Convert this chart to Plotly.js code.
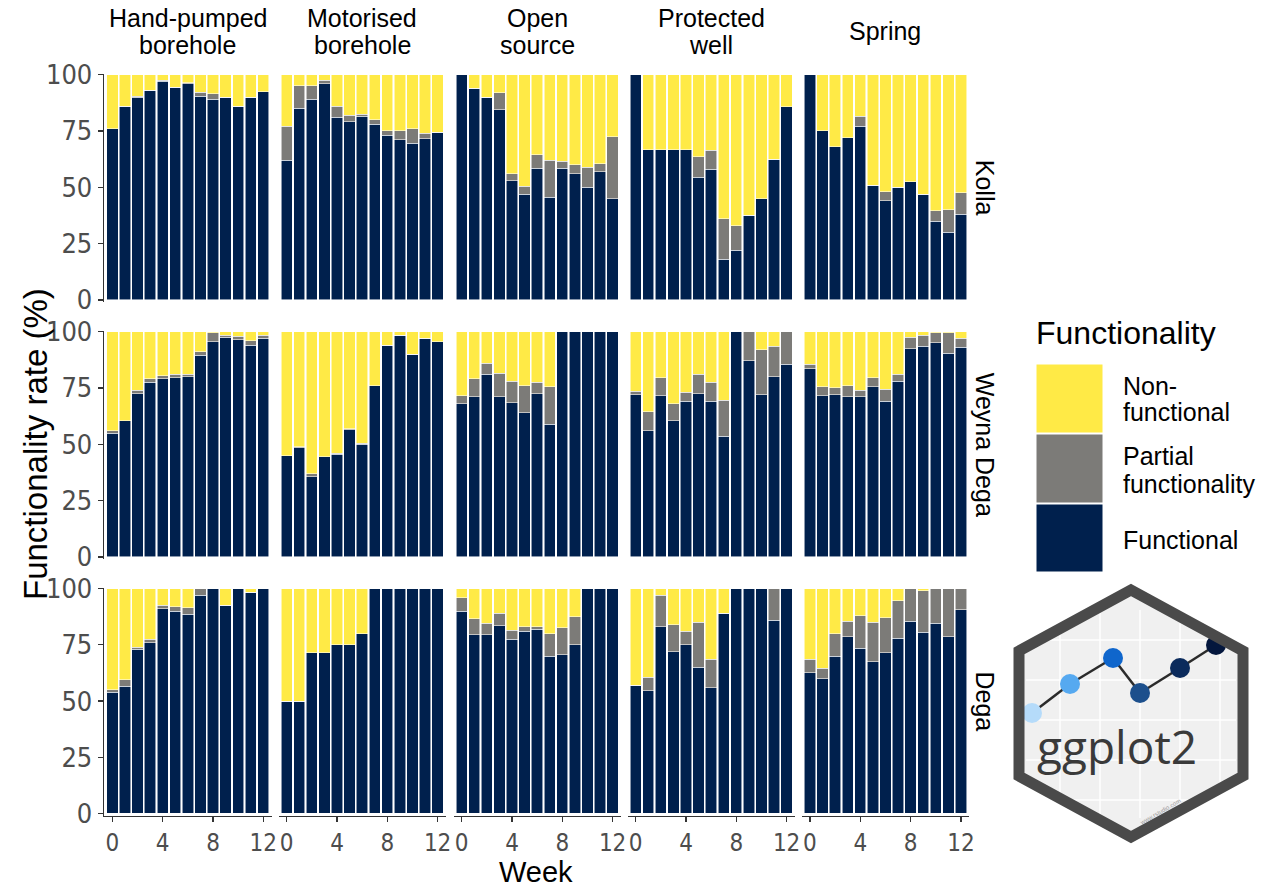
<!DOCTYPE html>
<html><head><meta charset="utf-8">
<script src="https://cdn.plot.ly/plotly-3.0.1.min.js"></script>
<style>html,body{margin:0;padding:0;background:#fff}#chart{width:1265px;height:888px}</style>
</head><body><div id="chart"></div>
<script>
// ---------- categories / labels ----------
const weeks = [0,1,2,3,4,5,6,7,8,9,10,11,12];
const sourceTypes = [["Hand-pumped","borehole"],["Motorised","borehole"],["Open","source"],["Protected","well"],["Spring"]];
const regions = ["Kolla","Weyna Dega","Dega"];
const statusNames = ["Functional","Partial functionality","Non-functional"];
const statusColors = ["#00204D","#7C7B78","#FFEA46"];
const yTickVals = [0,25,50,75,100];
const xTickVals = [0,4,8,12];

// ---------- data: Kolla ----------
const kolla_hand_F = [76,86,90,93,97,94.5,96,90.5,89,90,86,90,92.5];
const kolla_hand_P = [0,0,0.5,0,0.5,0,0.5,1.6,2.5,0,0,0,0];
const kolla_hand_N = [24,14,9.5,7,2.5,5.5,3.5,7.9,8.5,10,14,10,7.5];
const kolla_motor_F = [62,85,89,96,81,79,81.5,78,73,71,69.5,71.5,74.5];
const kolla_motor_P = [15,10,6,1.5,5,3,1,2,2,4,6.5,2.5,0];
const kolla_motor_N = [23,5,5,2.5,14,18,17.5,20,25,25,24,26,25.5];
const kolla_open_F = [100,94,90,84.5,53,47,58.5,45.5,58.5,56,50,57,45];
const kolla_open_P = [0,0,0,7.5,3,3.5,6,16.5,3,4,9,3.5,27.5];
const kolla_open_N = [0,6,10,8,44,49.5,35.5,38,38.5,40,41,39.5,27.5];
const kolla_well_F = [100,66.7,66.7,66.7,66.7,54.5,58,18,22,37.5,45,62.5,85.7];
const kolla_well_P = [0,0,0,0,0,9,8.5,18,11,0,0,0,0];
const kolla_well_N = [0,33.3,33.3,33.3,33.3,36.5,33.5,64,67,62.5,55,37.5,14.3];
const kolla_spring_F = [100,75,68,72,77,51,44,50,52.5,47,35,30,38];
const kolla_spring_P = [0,0,0,0,4.5,0,4,0,0,0,4.5,10,9.5];
const kolla_spring_N = [0,25,32,28,18.5,49,52,50,47.5,53,60.5,60,52.5];

// ---------- data: Weyna Dega ----------
const weyna_hand_F = [55,60.5,72.5,77.5,79,79.5,80,89.5,95.5,97.5,96.5,94,97];
const weyna_hand_P = [1,0,1.5,1.5,1.5,1.5,1,1.5,4,1,1.5,2,1.5];
const weyna_hand_N = [44,39.5,26,21,19.5,19,19,9,0.5,1.5,2,4,1.5];
const weyna_motor_F = [45,48.5,35.5,44.5,45.5,56.5,50,76,94,98.5,90,97,95.5];
const weyna_motor_P = [0,0.5,1.5,0,0.5,0.5,0.5,0,0,0,0,0,0];
const weyna_motor_N = [55,51,63,55.5,54,43,49.5,24,6,1.5,10,3,4.5];
const weyna_open_F = [68,71,81,71,68.5,64,72.5,59,100,100,100,100,100];
const weyna_open_P = [3.5,8,5,10.5,9.5,12,5,16.5,0,0,0,0,0];
const weyna_open_N = [28.5,21,14,18.5,22,24,22.5,24.5,0,0,0,0,0];
const weyna_well_F = [72,56,71.5,60.5,69,72.5,69,53.5,100,87,72,80,85.5];
const weyna_well_P = [1.5,8.5,8,7.5,4,8.5,8.5,16,0,13,20,13.5,14.5];
const weyna_well_N = [26.5,35.5,20.5,32,27,19,22.5,30.5,0,0,8,6.5,0];
const weyna_spring_F = [83.5,71.5,72,71,71,75.5,69,78,92.5,93.5,95,90.5,93];
const weyna_spring_P = [2,4,3,5,3,4,5.5,3,5,5,4.5,9,4];
const weyna_spring_N = [14.5,24.5,25,24,26,20.5,25.5,19,2.5,1.5,0.5,0.5,3];

// ---------- data: Dega ----------
const dega_hand_F = [54,56.5,73,76,91,90,88.5,97,100,92.5,100,98.5,100];
const dega_hand_P = [1,3,1,1.5,1.5,2,3,3,0,0,0,0,0];
const dega_hand_N = [45,40.5,26,22.5,7.5,8,8.5,0,0,7.5,0,1.5,0];
const dega_motor_F = [50,50,71.4,71.4,75,75,80,100,100,100,100,100,100];
const dega_motor_P = [0,0,0,0,0,0,0,0,0,0,0,0,0];
const dega_motor_N = [50,50,28.6,28.6,25,25,20,0,0,0,0,0,0];
const dega_open_F = [90,79.5,79.5,83.5,77.5,81,82,70,70.5,75,100,100,100];
const dega_open_P = [6,7,5,5.5,4,2,1,10,12,12.5,0,0,0];
const dega_open_N = [4,13.5,15.5,11,18.5,17,17,20,17.5,12.5,0,0,0];
const dega_well_F = [57,54.5,83,72,75,65,56,89,100,100,100,86,100];
const dega_well_P = [0,6,14,12,6,20,12.5,0,0,0,0,14,0];
const dega_well_N = [43,39.5,3,16,19,15,31.5,11,0,0,0,0,0];
const dega_spring_F = [62.5,60,70,78.5,73.5,67.5,71.5,78,85.5,80.5,84.5,78.5,90.5];
const dega_spring_P = [6,4.5,10,7,14.5,17.5,15.5,16.5,14.5,18.5,15.5,21.5,9.5];
const dega_spring_N = [31.5,35.5,20,14.5,12,15,13,5.5,0,1,0,0,0];

const facets = [
  [[kolla_hand_F,kolla_hand_P,kolla_hand_N],[kolla_motor_F,kolla_motor_P,kolla_motor_N],[kolla_open_F,kolla_open_P,kolla_open_N],[kolla_well_F,kolla_well_P,kolla_well_N],[kolla_spring_F,kolla_spring_P,kolla_spring_N]],
  [[weyna_hand_F,weyna_hand_P,weyna_hand_N],[weyna_motor_F,weyna_motor_P,weyna_motor_N],[weyna_open_F,weyna_open_P,weyna_open_N],[weyna_well_F,weyna_well_P,weyna_well_N],[weyna_spring_F,weyna_spring_P,weyna_spring_N]],
  [[dega_hand_F,dega_hand_P,dega_hand_N],[dega_motor_F,dega_motor_P,dega_motor_N],[dega_open_F,dega_open_P,dega_open_N],[dega_well_F,dega_well_P,dega_well_N],[dega_spring_F,dega_spring_P,dega_spring_N]]
];

// ---------- layout geometry ----------
const W = 1265, H = 888;
const px = v => v / W;
const py = v => 1 - v / H;
const colPx = [[104.2,271.5],[278.5,445.8],[453.5,620.8],[627.5,794.8],[801.8,969.1]];
const rowPx = [[73.5,302],[330.5,559],[587.5,815.5]];
const FONT = "Liberation Sans, Arial, Helvetica, sans-serif";
const TICKFONT = "Liberation Sans Narrow, Arial Narrow, DejaVu Sans Condensed, Liberation Sans, sans-serif";

const traces = [];
const layout = {
  width: W, height: H, margin: {l:0,r:0,t:0,b:0},
  paper_bgcolor: "#fff", plot_bgcolor: "rgba(0,0,0,0)",
  barmode: "stack", bargap: 0.1, showlegend: false,
  font: {family: FONT, color: "#000"},
  shapes: [], annotations: []
};

for (let r = 0; r < 3; r++) {
  for (let c = 0; c < 5; c++) {
    const n = r*5 + c + 1;
    const xs = n === 1 ? "x" : "x" + n;
    const ys = n === 1 ? "y" : "y" + n;
    for (let s = 0; s < 3; s++) {
      traces.push({
        type: "bar", x: weeks, y: facets[r][c][s], name: statusNames[s],
        xaxis: xs, yaxis: ys, width: 0.9,
        marker: {color: statusColors[s], line: {color: "rgba(255,255,255,0.9)", width: 0.6}},
        hovertemplate: regions[r] + " – week %{x}: %{y}%<extra>" + statusNames[s] + "</extra>"
      });
    }
    const bottom = r === 2, left = c === 0;
    layout["xaxis" + (n === 1 ? "" : n)] = {
      domain: [px(colPx[c][0]), px(colPx[c][1])], anchor: ys,
      range: [-0.65, 12.65], tickvals: xTickVals, showgrid: false, zeroline: false,
      showticklabels: bottom, ticks: bottom ? "outside" : "", ticklen: 5, tickwidth: 1.3, tickcolor: "#333",
      showline: bottom, linecolor: "#333", linewidth: 1.5,
      tickfont: {size: 24, color: "#4d4d4d", family: TICKFONT}, fixedrange: true
    };
    layout["yaxis" + (n === 1 ? "" : n)] = {
      domain: [py(rowPx[r][1]), py(rowPx[r][0])], anchor: xs,
      range: [-0.9, 100.5], tickvals: yTickVals, showgrid: false, zeroline: false,
      showticklabels: left, ticks: left ? "outside" : "", ticklen: 5, tickwidth: 1.3, tickcolor: "#333",
      showline: left, linecolor: "#333", linewidth: 1.5,
      tickfont: {size: 27, color: "#4d4d4d", family: TICKFONT}, fixedrange: true
    };
  }
}

const ann = (text, x, y, size, extra) => Object.assign({
  text, x: px(x), y: py(y), xref: "paper", yref: "paper", showarrow: false,
  xanchor: "center", yanchor: "middle", font: {size, color: "#000", family: FONT}
}, extra || {});

// column strips
sourceTypes.forEach((lines, c) => {
  const cx = (colPx[c][0] + colPx[c][1]) / 2;
  if (lines.length === 2) {
    layout.annotations.push(ann(lines[0], cx, 18, 25));
    layout.annotations.push(ann(lines[1], cx, 45, 25));
  } else {
    layout.annotations.push(ann(lines[0], cx, 31, 25));
  }
});
// row strips
regions.forEach((name, r) => {
  const cy = (rowPx[r][0] + rowPx[r][1]) / 2;
  layout.annotations.push(ann(name, 985, cy, 25, {textangle: 90}));
});
// axis titles
layout.annotations.push(ann("Week", 536, 871.5, 29));
layout.annotations.push(ann("Functionality rate (%)", 35, 444, 33, {textangle: -90}));

// legend (manual, large keys)
layout.annotations.push(ann("Functionality", 1034, 333, 32, {xanchor: "left"}));
const keyRows = [[364,433],[434,503],[504,572]];
const keyOrder = [2,1,0];
keyOrder.forEach((s, i) => {
  layout.shapes.push({type:"rect", xref:"paper", yref:"paper",
    x0: px(1036), x1: px(1103), y0: py(keyRows[i][1]), y1: py(keyRows[i][0]),
    fillcolor: statusColors[s], line: {color: "#fff", width: 1}});
});
layout.annotations.push(ann("Non-", 1121, 386, 25, {xanchor:"left"}));
layout.annotations.push(ann("functional", 1121, 412, 25, {xanchor:"left"}));
layout.annotations.push(ann("Partial", 1121, 456, 25, {xanchor:"left"}));
layout.annotations.push(ann("functionality", 1121, 484, 25, {xanchor:"left"}));
layout.annotations.push(ann("Functional", 1121, 540, 25, {xanchor:"left"}));

// ggplot2 hex logo (decoration)
const hex = [[1131,590],[1243,651],[1243,776],[1131,837],[1019,776],[1019,651]];
const hexPath = pts => "M" + pts.map(p => px(p[0]) + "," + py(p[1])).join("L") + "Z";
layout.shapes.push({type:"path", xref:"paper", yref:"paper", path: hexPath(hex),
  fillcolor: "#f0f0f0", line: {color: "#4d4d4d", width: 1}, layer: "below"});
// faint grid
[640,680,720,760,800].forEach(yy => layout.shapes.push({type:"line", xref:"paper", yref:"paper",
  x0: px(1026), x1: px(1236), y0: py(yy), y1: py(yy), line:{color:"#ffffff", width:1.5}, layer:"below"}));
[1060,1100,1140,1180,1220].forEach(xx => layout.shapes.push({type:"line", xref:"paper", yref:"paper",
  x0: px(xx), x1: px(xx), y0: py(610), y1: py(818), line:{color:"#ffffff", width:1.5}, layer:"below"}));
const logoPts = [[1032,713,"#b5dbfa"],[1070,684,"#56a9f0"],[1113,658,"#0f66cc"],[1140,693,"#1c4f8c"],[1180,668,"#0b2b5c"],[1216,645,"#04173d"]];
for (let i = 0; i < logoPts.length - 1; i++) {
  layout.shapes.push({type:"line", xref:"paper", yref:"paper",
    x0: px(logoPts[i][0]), y0: py(logoPts[i][1]), x1: px(logoPts[i+1][0]), y1: py(logoPts[i+1][1]),
    line: {color: "#2b2b2b", width: 2.5}});
}
logoPts.forEach(p => layout.shapes.push({type:"circle", xref:"paper", yref:"paper",
  x0: px(p[0]-10), x1: px(p[0]+10), y0: py(p[1]+10), y1: py(p[1]-10),
  fillcolor: p[2], line: {color: p[2], width: 0}}));
layout.shapes.push({type:"path", xref:"paper", yref:"paper", path: hexPath(hex),
  fillcolor: "rgba(0,0,0,0)", line: {color: "#4a4a4a", width: 11}});
layout.annotations.push(ann("ggplot2", 1117, 746, 46, {font:{size:46, color:"#3a3a3a", family:"Open Sans, Liberation Sans, sans-serif"}}));
layout.annotations.push(ann("www.rstudio.com", 1160, 812, 6, {textangle:-30, font:{size:6, color:"#999", family:FONT}}));

Plotly.newPlot("chart", traces, layout, {displayModeBar: false, staticPlot: true});
</script>
</body></html>
